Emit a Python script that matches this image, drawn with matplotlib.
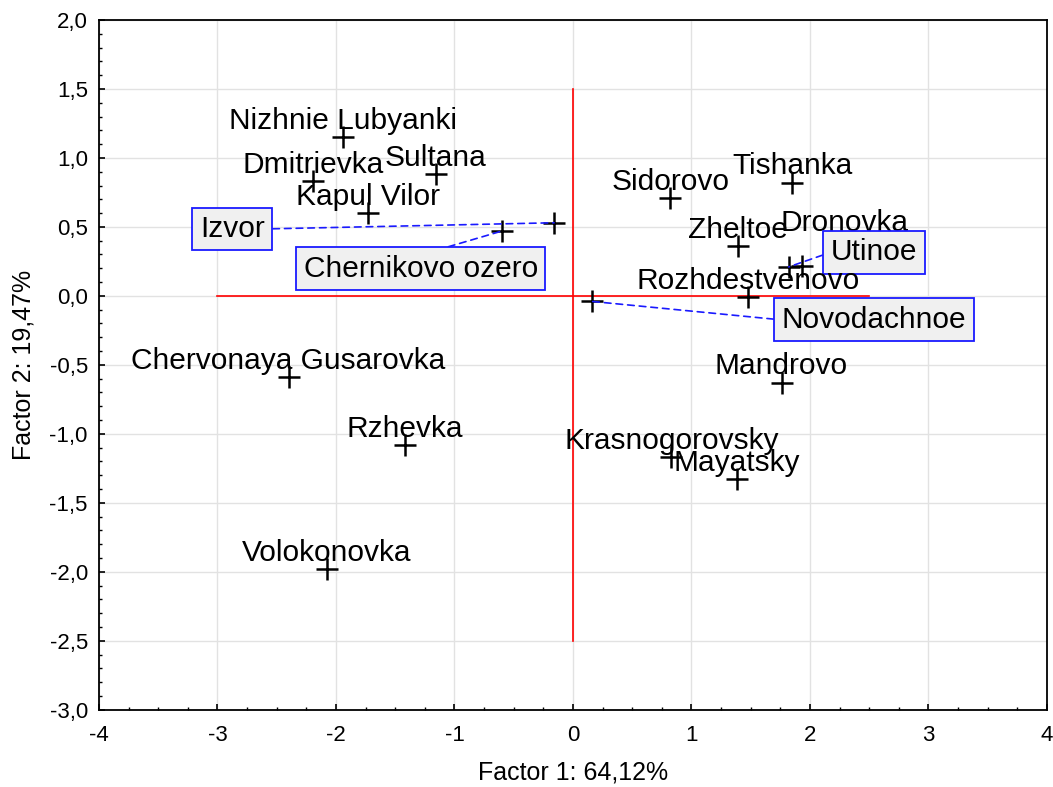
import numpy as np
import matplotlib
matplotlib.use('Agg')
import matplotlib.pyplot as plt
from matplotlib.ticker import MultipleLocator, FuncFormatter

# Factor scores of the sites (Factor 1, Factor 2)
names = ['Nizhnie Lubyanki', 'Dmitrievka', 'Sultana', 'Kapul Vilor', 'Izvor',
         'Chernikovo ozero', 'Sidorovo', 'Tishanka', 'Zheltoe', 'Dronovka',
         'Utinoe', 'Rozhdestvenovo', 'Novodachnoe', 'Mandrovo', 'Krasnogorovsky',
         'Mayatsky', 'Chervonaya Gusarovka', 'Rzhevka', 'Volokonovka']
factor1 = [-1.94, -2.19, -1.16, -1.73, -0.16,
           -0.60, 0.82, 1.85, 1.39, 1.93,
           1.82, 1.48, 0.16, 1.76, 0.83,
           1.38, -2.40, -1.42, -2.08]
factor2 = [1.15, 0.83, 0.88, 0.60, 0.53,
           0.47, 0.71, 0.82, 0.36, 0.22,
           0.21, -0.01, -0.04, -0.63, -1.17,
           -1.33, -0.59, -1.08, -1.98]

# labels drawn in boxes, with the box centre (data coords)
boxed = {'Izvor': (-2.875, 0.485, (1, 0.5)),
         'Chernikovo ozero': (-1.285, 0.196, (0.5, 1)),
         'Utinoe': (2.54, 0.316, (0, 0.5)),
         'Novodachnoe': (2.54, -0.174, (0, 0.5))}
# label offsets in points for plain labels (default is just above the marker)
offsets = {'Dronovka': (31, 25)}

fig = plt.figure(figsize=(10.53, 7.87), dpi=100)
ax = fig.add_axes([0.094, 0.098, 0.9003, 0.8767])

ax.set_xlim(-4, 4)
ax.set_ylim(-3, 2)

# red cross lines through origin
ax.plot([-3, 2.5], [0, 0], color='red', lw=1.2, zorder=2)
ax.plot([0, 0], [1.5, -2.5], color='red', lw=1.2, zorder=2)

ax.plot(factor1, factor2, linestyle='none', marker='+', color='black',
        markersize=16, markeredgewidth=1.8, zorder=4)

lab_font = dict(family='Liberation Sans', fontsize=21.5, color='black')
for name, x, y in zip(names, factor1, factor2):
    if name in boxed:
        bx, by, rel = boxed[name]
        ax.annotate(name, xy=(x, y), xytext=(bx, by), textcoords='data',
                    ha='center', va='center', zorder=5,
                    bbox=dict(boxstyle='square,pad=0.25', fc='#f0f0f0',
                              ec='#1a1aff', lw=1.3),
                    arrowprops=dict(arrowstyle='-', color='#1a1aff', lw=1.2,
                                    linestyle=(0, (4, 3)), relpos=rel,
                                    shrinkA=0, shrinkB=0),
                    **lab_font)
    else:
        dx, dy = offsets.get(name, (0, 6))
        ax.annotate(name, xy=(x, y), xytext=(dx, dy), textcoords='offset points',
                    ha='center', va='baseline', zorder=5, **lab_font)

# axes styling
ax.xaxis.set_major_locator(MultipleLocator(1))
ax.xaxis.set_minor_locator(MultipleLocator(0.25))
ax.yaxis.set_major_locator(MultipleLocator(0.5))
ax.yaxis.set_minor_locator(MultipleLocator(0.1))
ax.yaxis.set_major_formatter(FuncFormatter(lambda v, p: f'{v:.1f}'.replace('.', ',')))
ax.xaxis.set_major_formatter(FuncFormatter(lambda v, p: f'{v:.0f}'))

ax.grid(True, which='major', color='#e2e2e2', lw=1.0, zorder=0)
ax.set_axisbelow(True)
ax.tick_params(which='both', direction='in', top=False, right=False, color='black')
ax.tick_params(which='major', length=4, width=1.2)
ax.tick_params(which='minor', length=2.5, width=1.0)
ax.tick_params(axis='x', pad=11, labelsize=16)
ax.tick_params(axis='y', pad=8, labelsize=16)
for lbl in ax.get_xticklabels() + ax.get_yticklabels():
    lbl.set_family('Liberation Sans')
for sp in ax.spines.values():
    sp.set_linewidth(1.3)

ax_font = dict(family=['Liberation Sans Narrow', 'Liberation Sans'], fontsize=18)
ax.set_xlabel('Factor 1: 64,12%', labelpad=10, **ax_font)
ax.set_ylabel('Factor 2: 19,47%', labelpad=10, **ax_font)

fig.savefig('out.png', dpi=100)
